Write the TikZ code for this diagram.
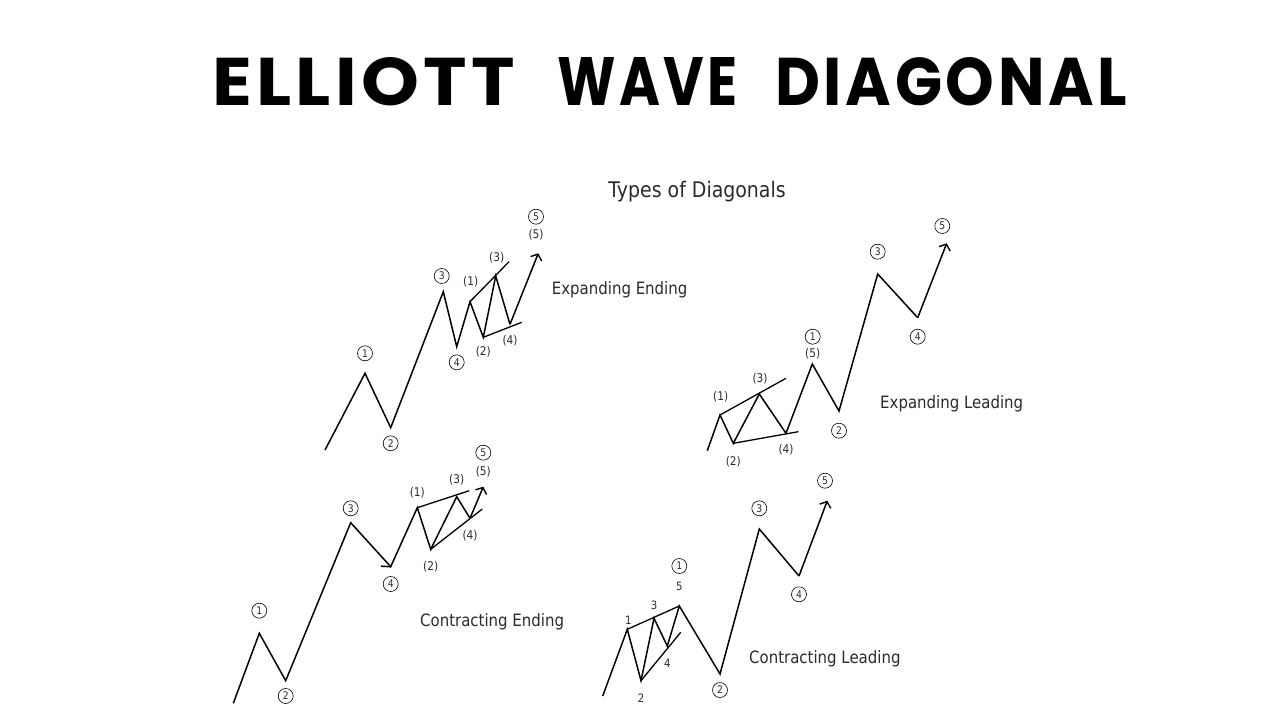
\documentclass[tikz,border=0pt]{standalone}
\usepackage{fontspec}
\usetikzlibrary{arrows.meta}
\setmainfont{DejaVu Sans}[FakeStretch=0.88]
\newfontfamily\titlefont{Poppins}[LetterSpace=6]
\definecolor{txt}{HTML}{2A2A2A}
\tikzset{
  wave/.style={line width=1.5pt, line join=miter, black},
  trend/.style={line width=1.3pt, black},
  arr/.style={-{Straight Barb[length=5pt,width=12pt,line width=1.4pt]}},
  circ/.style={circle, draw=black, line width=0.6pt, inner sep=0pt, minimum size=15pt, text=txt, font=\fontsize{10.5}{10.5}\selectfont},
  parlbl/.style={inner sep=0pt, text=txt, font=\fontsize{12}{12}\selectfont},
  numlbl/.style={inner sep=0pt, text=txt, font=\fontsize{11.5}{11.5}\selectfont},
  wavename/.style={inner sep=0pt, anchor=base west, text=txt, font=\fontsize{17}{17}\selectfont},
  titleword/.style={inner sep=0pt, anchor=south west},
}
\begin{document}
\begin{tikzpicture}[x=1pt,y=-1pt]
\useasboundingbox (0,0) rectangle (1280,720);
% title
\node[titleword] (title1) at (212,106) {\resizebox{303pt}{48pt}{\titlefont\bfseries ELLIOTT}};
\node[titleword] (title2) at (557,106) {\resizebox{180pt}{48pt}{\titlefont\bfseries WAVE}};
\node[titleword] (title3) at (775,106) {\resizebox{352pt}{48pt}{\titlefont\bfseries DIAGONAL}};
\node[inner sep=0pt, anchor=base, text=txt, font=\fontsize{21.5}{21.5}\selectfont] (types) at (697,197.3) {Types of Diagonals};

% ---------------- Expanding Ending ----------------
\coordinate (a0) at (325,450);
\coordinate (a1) at (365,373.3);
\coordinate (a2) at (390.7,427.7);
\coordinate (a3) at (443.3,291.7);
\coordinate (a4) at (456.7,346.7);
\coordinate (as1) at (470,301.7);
\coordinate (as2) at (483.3,337.3);
\coordinate (as3) at (495.7,276);
\coordinate (as4) at (510,324.3);
\coordinate (a5) at (538.3,253.3);
\coordinate (aut) at (509,261.7);
\coordinate (alt) at (521.7,322.3);
\draw[wave] (a0) -- (a1) -- (a2) -- (a3) -- (a4) -- (as1) -- (as2) -- (as3) -- (as4);
\draw[wave,arr] (as4) -- (a5);
\draw[trend] (as1) -- (aut);
\draw[trend] (as2) -- (alt);
\node[circ] (la1) at (365,353.3) {1};
\node[circ] (la2) at (390.7,443.3) {2};
\node[circ] (la3) at (441.7,276) {3};
\node[circ] (la4) at (456.7,362.3) {4};
\node[circ] (la5) at (536,216.7) {5};
\node[parlbl] (pa1) at (470.7,281.7) {(1)};
\node[parlbl] (pa2) at (483.3,351.7) {(2)};
\node[parlbl] (pa3) at (496.7,257.3) {(3)};
\node[parlbl] (pa4) at (510,340.7) {(4)};
\node[parlbl] (pa5) at (536,235) {(5)};
\node[wavename] (na) at (551.7,294.3) {Expanding Ending};

% ---------------- Expanding Leading ----------------
\coordinate (b0) at (707.3,450.7);
\coordinate (bs1) at (720,415);
\coordinate (bs2) at (733.3,443.3);
\coordinate (bs3) at (759.3,394);
\coordinate (bs4) at (786,433.3);
\coordinate (b1) at (812.3,364);
\coordinate (b2) at (839,411);
\coordinate (b3) at (877.7,274);
\coordinate (b4) at (917.7,317.7);
\coordinate (b5) at (946.7,243.3);
\coordinate (but) at (786,378.3);
\coordinate (blt) at (798.3,431.7);
\draw[wave] (b0) -- (bs1) -- (bs2) -- (bs3) -- (bs4) -- (b1) -- (b2) -- (b3) -- (b4);
\draw[wave,arr] (b4) -- (b5);
\draw[trend] (bs1) -- (but);
\draw[trend] (bs2) -- (blt);
\node[parlbl] (pb1) at (720.7,396.7) {(1)};
\node[parlbl] (pb2) at (733.3,461.7) {(2)};
\node[parlbl] (pb3) at (760,378.3) {(3)};
\node[parlbl] (pb4) at (786,449.3) {(4)};
\node[parlbl] (pb5) at (812.7,354) {(5)};
\node[circ] (lb1) at (812.7,336.7) {1};
\node[circ] (lb2) at (839,430.7) {2};
\node[circ] (lb3) at (877.7,251.7) {3};
\node[circ] (lb4) at (917.7,336.7) {4};
\node[circ] (lb5) at (942.3,226) {5};
\node[wavename] (nb) at (880,408.3) {Expanding Leading};

% ---------------- Contracting Ending ----------------
\coordinate (c0) at (233.3,703.3);
\coordinate (c1) at (259.3,633.3);
\coordinate (c2) at (285.7,680.7);
\coordinate (c3) at (350.7,522.7);
\coordinate (c4) at (390.7,566.7);
\coordinate (c4t) at (381,566.2);
\coordinate (cs1) at (417.3,507.7);
\coordinate (cs2) at (430.7,549.3);
\coordinate (cs3) at (456.7,496.7);
\coordinate (cs4) at (470,518.3);
\coordinate (c5) at (483.3,486.7);
\coordinate (cut) at (469.3,490.7);
\coordinate (clt) at (482.3,509);
\draw[wave] (c0) -- (c1) -- (c2) -- (c3) -- (c4) -- (cs1) -- (cs2) -- (cs3) -- (cs4);
\draw[wave] (c4t) -- (c4);
\draw[wave,arr] (cs4) -- (c5);
\draw[trend] (cs1) -- (cut);
\draw[trend] (cs2) -- (clt);
\node[circ] (lc1) at (259.3,610.7) {1};
\node[circ] (lc2) at (285.7,696) {2};
\node[circ] (lc3) at (350.7,508.3) {3};
\node[circ] (lc4) at (390.7,584) {4};
\node[circ] (lc5) at (483.3,452.7) {5};
\node[parlbl] (pc1) at (417.3,492.7) {(1)};
\node[parlbl] (pc2) at (430.7,566.7) {(2)};
\node[parlbl] (pc3) at (456.7,480) {(3)};
\node[parlbl] (pc4) at (470,535.7) {(4)};
\node[parlbl] (pc5) at (483.3,471.7) {(5)};
\node[wavename] (nc) at (420,626.7) {Contracting Ending};

% ---------------- Contracting Leading ----------------
\coordinate (d0) at (602.7,696);
\coordinate (ds1) at (627.3,629.3);
\coordinate (ds2) at (641,680.7);
\coordinate (ds3) at (654,618.3);
\coordinate (ds4) at (667.3,646);
\coordinate (d1) at (679.3,606);
\coordinate (d2) at (720,674);
\coordinate (d3) at (759.3,529);
\coordinate (d4) at (799,576);
\coordinate (d5) at (827.3,500.7);
\coordinate (dlt) at (680.7,632.3);
\draw[wave] (d0) -- (ds1) -- (ds2) -- (ds3) -- (ds4) -- (d1) -- (d2) -- (d3) -- (d4);
\draw[wave,arr] (d4) -- (d5);
\draw[trend] (ds1) -- (d1);
\draw[trend] (ds2) -- (dlt);
\node[numlbl] (qd1) at (628.3,620.7) {1};
\node[numlbl] (qd2) at (641,698.3) {2};
\node[numlbl] (qd3) at (654,605.7) {3};
\node[numlbl] (qd4) at (667.3,663.3) {4};
\node[numlbl] (qd5) at (679.3,586) {5};
\node[circ] (ld1) at (679.3,566) {1};
\node[circ] (ld2) at (720,690) {2};
\node[circ] (ld3) at (759.3,508.3) {3};
\node[circ] (ld4) at (799,594.3) {4};
\node[circ] (ld5) at (825,480.7) {5};
\node[wavename] (nd) at (749,663.3) {Contracting Leading};
\end{tikzpicture}
\end{document}
